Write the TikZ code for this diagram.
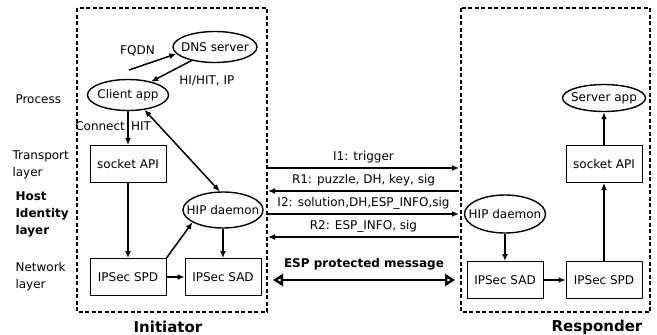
\documentclass[tikz,border=0pt]{standalone}
\usepackage{fontspec}
\setmainfont{DejaVu Sans}
\usetikzlibrary{shapes.geometric,arrows.meta,positioning}

\begin{document}
\begin{tikzpicture}[x=1pt,y=-1pt,font=\fontsize{12}{17}\selectfont,
  proc/.style={draw,ellipse,line width=1.4pt,inner xsep=-8pt,inner ysep=0pt},
  blk/.style={draw,rectangle,line width=1pt,inner sep=0pt,minimum width=76,minimum height=37},
  conn/.style={-{Latex[length=7pt,width=6pt]},line width=1.5pt},
  hostbox/.style={line width=1.8pt,dash pattern=on 4pt off 2.5pt},
  lyr/.style={anchor=west,align=left}]
\useasboundingbox (0,0) rectangle (657,335);
% the two hosts
\draw[hostbox] (77,8) rectangle (267,312);
\draw[hostbox] (461,8) rectangle (650,312);
\node[font=\fontsize{15}{18}\selectfont\bfseries] (initr) at (168,327) {Initiator};
\node[font=\fontsize{15}{18}\selectfont\bfseries] (respr) at (597,327) {Responder};
% layer names on the left
\node[lyr] (lproc) at (12,99) {Process};
\node[lyr] (ltrans) at (9,165) {Transport\\layer};
\node[lyr,font=\fontsize{12}{17}\selectfont\bfseries] (lhip) at (12,214) {Host\\Identity\\layer};
\node[lyr] (lnet) at (12,277) {Network\\layer};
% initiator
\node[proc,minimum width=84,minimum height=31] (dns) at (215,47) {DNS server};
\node[proc,minimum width=81,minimum height=31] (cli) at (128,95) {Client app};
\node[blk] (soci) at (128,164) {socket API};
\node[proc,minimum width=80,minimum height=36] (hipi) at (223,210) {HIP daemon};
\node[blk] (spdi) at (128,277) {IPSec SPD};
\node[blk] (sadi) at (223,277) {IPSec SAD};
\coordinate (fq) at (129,70);
\draw[conn] (fq) -- (dns.190) node[pos=0.18,above=7pt] {FQDN};
\draw[conn] (dns.-150) -- (cli.30) node[pos=0.5,below right=1pt and 4pt] {HI/HIT, IP};
\draw[conn] (cli) -- (soci) node[pos=0.45,left=-1pt] {Connect} node[pos=0.45,right=-1pt] {HIT};
\draw[conn,{Latex[length=7pt,width=6pt]}-{Latex[length=7pt,width=6pt]}] (cli.-42) -- (hipi.100);
\draw[conn] (soci) -- (spdi);
\draw[conn] (spdi) -- (sadi);
\draw[conn] (spdi.north east) -- (hipi.202);
\draw[conn] (hipi) -- (sadi);
% responder
\node[proc,minimum width=83,minimum height=27] (srv) at (604,98) {Server app};
\node[blk] (socr) at (604,164) {socket API};
\node[proc,minimum width=81,minimum height=38] (hipr) at (505,214) {HIP daemon};
\node[blk] (sadr) at (505,280) {IPSec SAD};
\node[blk] (spdr) at (604,280) {IPSec SPD};
\draw[conn] (hipr) -- (sadr);
\draw[conn] (sadr) -- (spdr);
\draw[conn] (spdr) -- (socr);
\draw[conn] (socr) -- (srv);
% base exchange
\foreach \i/\y/\lbl in {1/168/{I1: trigger},3/214/{I2: solution,DH,ESP\_INFO,sig}} {
  \coordinate (a\i) at (268,\y);
  \coordinate (b\i) at (459,\y);
  \draw[conn] (a\i) -- (b\i) node[midway,above=1pt] {\lbl};
}
\foreach \i/\y/\lbl in {2/191/{R1: puzzle, DH, key, sig},4/237/{R2: ESP\_INFO, sig}} {
  \coordinate (a\i) at (268,\y);
  \coordinate (b\i) at (459,\y);
  \draw[conn] (b\i) -- (a\i) node[midway,above=1pt] {\lbl};
}
\coordinate (espa) at (273,280);
\coordinate (espb) at (455,280);
\draw[line width=2.4pt,{Triangle[open,length=10pt,width=12pt]}-{Triangle[open,length=10pt,width=12pt]}] (espa) -- (espb)
  node[midway,above=5pt,font=\fontsize{12}{17}\selectfont\bfseries] {ESP protected message};
\end{tikzpicture}
\end{document}
